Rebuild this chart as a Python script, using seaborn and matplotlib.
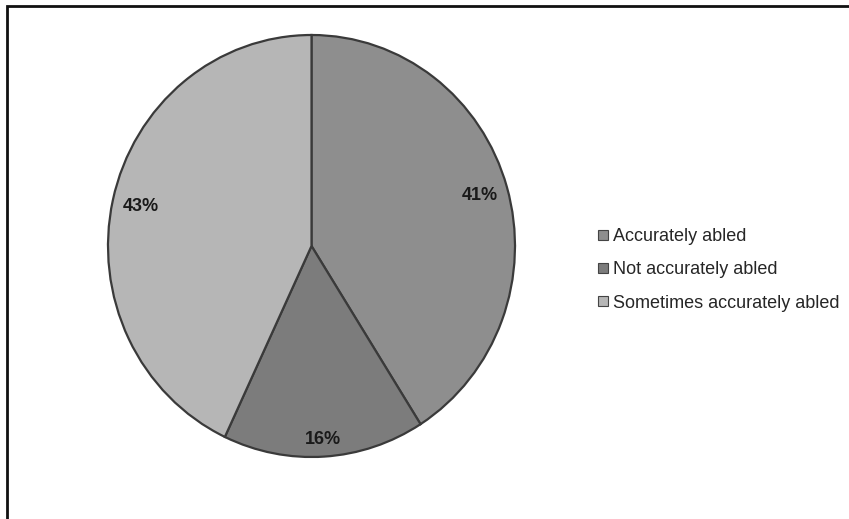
import matplotlib
matplotlib.use('Agg')
import matplotlib.pyplot as plt
import seaborn as sns
from matplotlib.patches import Rectangle
from matplotlib.lines import Line2D

# ================================
# data
# ================================
categories = ['Accurately abled', 'Not accurately abled', 'Sometimes accurately abled']
shares = [41, 16, 43]
colours = ['#8e8e8e', '#7c7c7c', '#b6b6b6']

sns.set_theme(style='white')
plt.rcParams['font.family'] = ['Liberation Sans', 'DejaVu Sans']

fig = plt.figure(figsize=(8.49, 5.19), dpi=100)
fig.patch.set_facecolor('white')

# pie area (slightly taller than wide, as in the scan)
ax = fig.add_axes([108 / 849, 62 / 519, 407 / 849, 422 / 519])
wedges, texts, autotexts = ax.pie(
    shares,
    colors=colours,
    startangle=90,
    counterclock=False,
    autopct='%1.0f%%',
    pctdistance=0.86,
    wedgeprops=dict(edgecolor='#3a3a3a', linewidth=1.6),
    textprops=dict(fontsize=13, fontweight='bold', color='#1a1a1a'),
)
ax.set_aspect('auto')
ax.set_xlim(-1.0, 1.0)
ax.set_ylim(-1.0, 1.0)
ax.axis('off')

# small slice label sits closer to the rim
x, y = autotexts[1].get_position()
autotexts[1].set_position((x * 1.07, y * 1.07))

# legend
handles = [Line2D([0], [0], marker='s', linestyle='', markersize=7.5,
                  markerfacecolor=c, markeredgecolor='#444444', markeredgewidth=0.8)
           for c in colours]
fig.legend(handles, categories,
           loc='center left', bbox_to_anchor=(589 / 849, 1 - 270 / 519),
           frameon=False, fontsize=13, labelspacing=0.9,
           handlelength=0.6, handletextpad=0.25, borderpad=0)

# outer frame of the chart area
fig.patches.append(Rectangle((7 / 849, -0.05), 1.0, 1.05 - 6 / 519,
                             transform=fig.transFigure, fill=False,
                             edgecolor='#111111', linewidth=2))

plt.savefig('out.png', dpi=100)
